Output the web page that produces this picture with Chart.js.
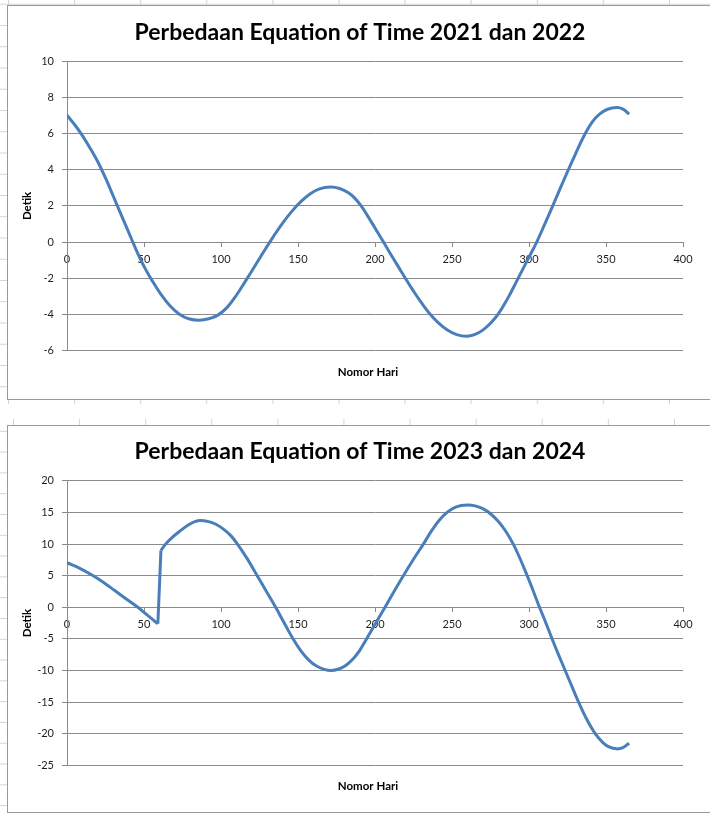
<!DOCTYPE html>
<html>
<head>
<meta charset="utf-8">
<script src="https://cdn.jsdelivr.net/npm/chart.js@4.4.1/dist/chart.umd.min.js"></script>
<style>
  html, body { margin: 0; padding: 0; width: 710px; height: 813px; overflow: hidden; background: #fff; }
  .sheet { position: absolute; left: 0; width: 710px; }
  #sheetTop {
    top: 0; height: 404px;
    background-image: linear-gradient(to right, #d4d4d4 1px, transparent 1px),
                      linear-gradient(to bottom, #d4d4d4 1px, transparent 1px);
    background-size: 66.1px 100%, 100% 21.25px;
    background-position: 8px 0, 0 3.75px;
  }
  #sheetBottom {
    top: 419px; height: 394px;
    background-image: linear-gradient(to right, #d4d4d4 1px, transparent 1px),
                      linear-gradient(to bottom, #d4d4d4 1px, transparent 1px);
    background-size: 66.1px 100%, 100% 20.8px;
    background-position: 13px 0, 0 -9px;
  }
  .frame { position: absolute; left: 7px; width: 720px; border: 1px solid #9a9a9a; background: #fff; }
  #frame1 { top: 5px; height: 393px; }
  #frame2 { top: 425px; height: 386px; }
  canvas { display: block; }
</style>
</head>
<body>
<div class="sheet" id="sheetTop"></div>
<div class="sheet" id="sheetBottom"></div>
<div class="frame" id="frame1"><canvas id="eot1" width="712" height="393"></canvas></div>
<div class="frame" id="frame2"><canvas id="eot2" width="712" height="386"></canvas></div>
<script>
// Day numbers and equation-of-time differences (seconds), 2021 vs 2022
const days1 = [0, 5, 10, 15, 20, 25, 30, 35, 40, 45, 50, 55, 61, 67, 73, 79, 86, 92, 98, 104, 110,
  116, 122, 128, 134, 140, 146, 152, 158, 164, 171, 177, 183, 187, 191, 195, 200, 205.5, 210, 215,
  220, 225, 230, 235, 241, 247, 253, 259.5, 265, 270, 275, 280, 286, 293, 299, 305, 310, 315, 320,
  325, 330, 336, 341, 346, 351, 357, 361, 365];
const diff1 = [7.03, 6.5, 5.9, 5.2, 4.45, 3.55, 2.55, 1.55, 0.55, -0.45, -1.35, -2.1, -2.9, -3.55,
  -4.0, -4.25, -4.33, -4.25, -4.05, -3.62, -2.95, -2.15, -1.33, -0.5, 0.3, 1.05, 1.7, 2.25, 2.68,
  2.95, 3.05, 2.97, 2.72, 2.42, 2.0, 1.48, 0.78, 0.0, -0.65, -1.35, -2.05, -2.72, -3.35, -3.92,
  -4.47, -4.88, -5.13, -5.22, -5.12, -4.88, -4.5, -4.0, -3.15, -2.0, -1.0, 0.0, 0.95, 1.92, 2.92,
  3.9, 4.85, 5.93, 6.65, 7.1, 7.36, 7.45, 7.37, 7.09];

// Day numbers and equation-of-time differences (seconds), 2023 vs 2024
const days2 = [0, 8, 17, 24, 31, 38, 46, 52, 59, 61, 64, 68, 73, 79, 83, 86.4, 92, 97, 102, 106.5,
  110.7, 117, 123.5, 129.5, 135.5, 141, 146.8, 152, 157, 162, 167, 171.5, 176, 181, 186, 190, 194.4,
  200, 206.5, 212, 218.4, 225, 231.4, 237, 242, 247, 252, 256, 260.5, 265, 270, 275, 280, 285,
  289.8, 294, 298.5, 302.5, 306.5, 311, 315, 319, 323.5, 328, 332, 337, 343, 348, 352, 357, 361, 365];
const diff2 = [7.05, 6.2, 5.0, 3.9, 2.65, 1.4, 0.0, -1.2, -2.6, 9.0, 10.0, 11.0, 12.0, 13.05, 13.55,
  13.75, 13.55, 13.1, 12.3, 11.3, 10.0, 7.7, 5.0, 2.5, 0.0, -2.45, -5.0, -6.95, -8.35, -9.3, -9.82,
  -10.0, -9.8, -9.2, -8.1, -6.85, -5.05, -2.7, 0.0, 2.35, 5.0, 7.6, 10.0, 12.2, 13.85, 15.05, 15.8,
  16.1, 16.2, 16.05, 15.6, 14.8, 13.6, 12.0, 10.0, 7.8, 5.2, 2.75, 0.2, -2.5, -5.0, -7.4, -10.0,
  -12.6, -14.9, -17.5, -20.0, -21.4, -22.1, -22.4, -22.2, -21.5];
// index of the last day before the leap-day shift (day 59 -> 61)
const leapBreak2 = 8;

const titles = ['Perbedaan Equation of Time 2021 dan 2022', 'Perbedaan Equation of Time 2023 dan 2024'];
const xTitle = 'Nomor Hari';
const yTitle = 'Detik';
const xTicks = { min: 0, max: 400, step: 50 };
const yTicks1 = { min: -6, max: 10, step: 2 };
const yTicks2 = { min: -25, max: 20, step: 5 };

const FONT = 'Lato';
const GRID = '#8a8a8a';
const TEXT = '#1e1e1e';
const LINE = '#4a7ebb';

// nudges the bottom axis title slightly left of the plot centre
const shiftAxisTitle = {
  id: 'shiftAxisTitle',
  afterLayout(chart) {
    const s = chart.scales.xTitleAxis;
    s.left -= 7; s.right -= 7;
  }
};

function toPoints(days, diff, from, to) {
  const pts = [];
  for (let i = from; i <= to; i++) pts.push({ x: days[i], y: diff[i] });
  return pts;
}

function lineSet(pts, tension) {
  return { data: pts, borderColor: LINE, borderWidth: 3, pointRadius: 0, fill: false, tension: tension,
           borderJoinStyle: 'round', borderCapStyle: 'butt' };
}

// splits a series into smooth pieces joined by straight links at each break index
function buildSets(days, diff, breaks) {
  const sets = [];
  let start = 0;
  breaks.forEach(b => {
    sets.push(lineSet(toPoints(days, diff, start, b), 0.4));
    sets.push(lineSet(toPoints(days, diff, b, b + 1), 0));
    start = b + 1;
  });
  sets.push(lineSet(toPoints(days, diff, start, days.length - 1), 0.4));
  return sets;
}

function makeChart(id, datasets, title, yt, L) {
  return new Chart(document.getElementById(id), {
    type: 'line',
    data: { datasets: datasets },
    plugins: [shiftAxisTitle],
    options: {
      responsive: false,
      animation: false,
      devicePixelRatio: 1,
      events: [],
      layout: { padding: { left: 0, right: 8, top: 0, bottom: 0 } },
      plugins: {
        legend: { display: false },
        tooltip: { enabled: false },
        title: {
          display: true,
          text: title,
          color: '#000',
          font: { family: FONT, size: 23, weight: 'bold', lineHeight: 1.2 },
          padding: { top: L.titleTop, bottom: L.titleBottom }
        }
      },
      scales: {
        x: {
          type: 'linear',
          position: { y: 0 },
          min: xTicks.min, max: xTicks.max,
          ticks: { stepSize: xTicks.step, color: TEXT, font: { family: FONT, size: 11 }, padding: 7, maxRotation: 0 },
          grid: { drawOnChartArea: false, drawTicks: true, tickLength: 4, color: GRID },
          border: { display: true, color: GRID, width: 1 }
        },
        xTitleAxis: {
          type: 'linear',
          position: 'bottom',
          min: xTicks.min, max: xTicks.max,
          display: true,
          ticks: { display: false },
          grid: { display: false, drawTicks: false },
          border: { display: false },
          title: {
            display: true, text: xTitle, color: '#000',
            font: { family: FONT, size: 11.5, weight: 'bold', lineHeight: 1.2 },
            padding: { top: 0, bottom: L.xTitlePad }
          },
          afterFit(s) { s.height = L.bottomH; }
        },
        y: {
          type: 'linear',
          position: 'left',
          min: yt.min, max: yt.max,
          ticks: { stepSize: yt.step, color: TEXT, font: { family: FONT, size: 11 }, padding: 8 },
          grid: { color: GRID, lineWidth: 1, drawTicks: true, tickLength: 5 },
          border: { display: true, color: GRID, width: 1 },
          title: {
            display: true, text: yTitle, color: '#000',
            font: { family: FONT, size: 11.5, weight: 'bold', lineHeight: 1.2 },
            padding: { top: 12.8, bottom: 0 }
          },
          afterFit(s) { s.width = 59; }
        },
        yRightSpace: {
          type: 'linear',
          position: 'right',
          display: true,
          ticks: { display: false },
          grid: { display: false, drawTicks: false },
          border: { display: false },
          afterFit(s) { s.width = 29; }
        }
      }
    }
  });
}

makeChart('eot1', buildSets(days1, diff1, []), titles[0], yTicks1,
  { titleTop: 13.0, titleBottom: 15.0, bottomH: 48.7, xTitlePad: 19.4 });
makeChart('eot2', buildSets(days2, diff2, [leapBreak2]), titles[1], yTicks2,
  { titleTop: 11.4, titleBottom: 15.9, bottomH: 46.7, xTitlePad: 18.4 });
</script>
</body>
</html>
